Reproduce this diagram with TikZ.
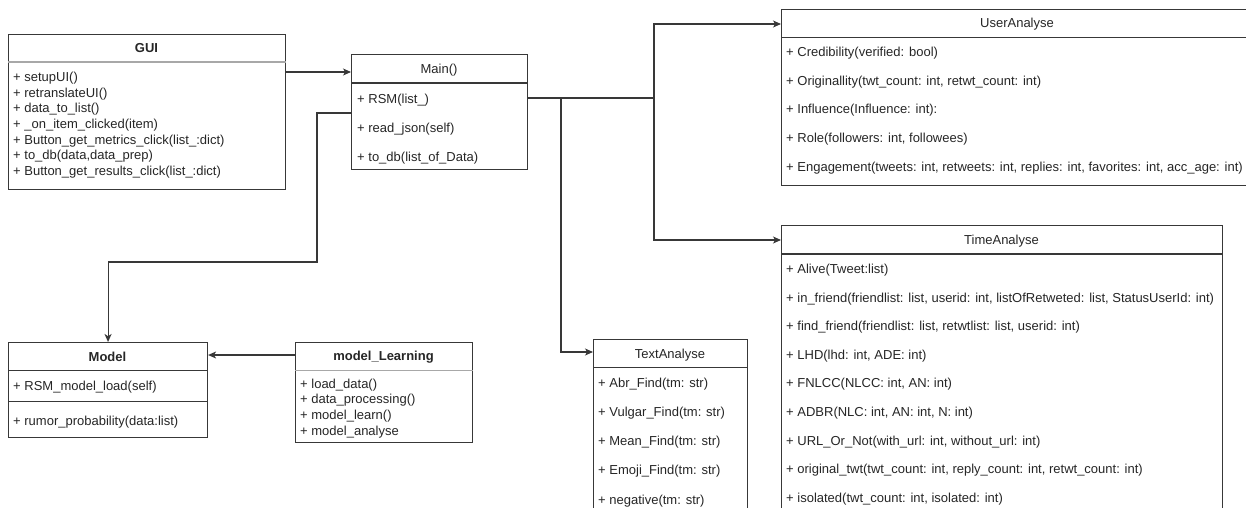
\documentclass[tikz,border=0pt]{standalone}
\usepackage{fontspec}
\setmainfont{Liberation Sans}
\usetikzlibrary{arrows.meta}
\definecolor{ink}{HTML}{262626}
\definecolor{edge}{HTML}{383838}
\definecolor{soft}{HTML}{A8A8A8}
\newcommand\umlfont{\fontsize{13}{15.6}\selectfont}

\begin{document}
\begin{tikzpicture}[x=1pt,y=-1pt,
  cls/.style={draw=edge, line width=1.1pt, fill=white, inner sep=0pt, anchor=north west},
  ttl/.style={font=\umlfont, text=ink, inner sep=0pt, anchor=base},
  btl/.style={font=\umlfont\bfseries, text=ink, inner sep=0pt, anchor=base},
  row/.style={font=\umlfont, text=ink, inner sep=0pt, anchor=base west},
  divider/.style={draw=edge, line width=1.1pt},
  lightdiv/.style={draw=soft, line width=1.1pt},
  link/.style={draw=edge, line width=1.1pt, -{Stealth[length=8pt,width=7pt,inset=2.2pt]}},
]
\useasboundingbox (0,0) rectangle (1246,508);
\fill[white] (0,0) rectangle (1246,508);
\clip (0,0) rectangle (1246,508);

% ---------- GUI ----------
\node[cls, minimum width=277pt, minimum height=155pt] (gui) at (8,34) {};
\node[btl] (gui-t) at (146.5,52.7) {GUI};
\draw[lightdiv] (gui.north west |- 0,62) -- (gui.north east |- 0,62);
\foreach \t [count=\i from 0] in {{+ setupUI()},{+ retranslateUI()},{+ data\_to\_list()},
  {+ \_on\_item\_clicked(item)},{+ Button\_get\_metrics\_click(list\_:dict)},
  {+ to\_db(data,data\_prep)},{+ Button\_get\_results\_click(list\_:dict)}}
  \node[row] (gui-\i) at (13,{81.7+15.6*\i}) {\t};

% ---------- Main() ----------
\node[cls, minimum width=176pt, minimum height=115pt] (main) at (351,54) {};
\node[ttl] (main-t) at (439,73.7) {Main()};
\draw[divider] (main.north west |- 0,83) -- (main.north east |- 0,83);
\foreach \t [count=\i from 0] in {{+ RSM(list\_)},{+ read\_json(self)},{+ to\_db(list\_of\_Data)}}
  \node[row] (main-\i) at (357,{103.5+28.8*\i}) {\t};

% ---------- UserAnalyse ----------
\node[cls, minimum width=472pt, minimum height=176pt] (user) at (781,9) {};
\node[ttl] (user-t) at (1017,28) {UserAnalyse};
\draw[divider] (user.north west |- 0,37.6) -- (user.north east |- 0,37.6);
\foreach \t [count=\i from 0] in {{+ Credibility(verified: bool)},
  {+ Originallity(twt\_count: int, retwt\_count: int)},
  {+ Influence(Influence: int):},
  {+ Role(followers: int, followees)},
  {+ Engagement(tweets: int, retweets: int, replies: int, favorites: int, acc\_age: int)}}
  \node[row] (user-\i) at (786,{56.7+28.6*\i}) {\t};

% ---------- TimeAnalyse ----------
\node[cls, minimum width=441pt, minimum height=310pt] (time) at (781,225) {};
\node[ttl] (time-t) at (1001.5,244.5) {TimeAnalyse};
\draw[divider] (time.north west |- 0,254) -- (time.north east |- 0,254);
\foreach \t [count=\i from 0] in {{+ Alive(Tweet:list)},
  {+ in\_friend(friendlist: list, userid: int, listOfRetweted: list, StatusUserId: int)},
  {+ find\_friend(friendlist: list, retwtlist: list, userid: int)},
  {+ LHD(lhd: int, ADE: int)},
  {+ FNLCC(NLCC: int, AN: int)},
  {+ ADBR(NLC: int, AN: int, N: int)},
  {+ URL\_Or\_Not(with\_url: int, without\_url: int)},
  {+ original\_twt(twt\_count: int, reply\_count: int, retwt\_count: int)},
  {+ isolated(twt\_count: int, isolated: int)}}
  \node[row] (time-\i) at (786,{273.5+28.6*\i}) {\t};

% ---------- TextAnalyse ----------
\node[cls, minimum width=154pt, minimum height=200pt] (text) at (593,339) {};
\node[ttl] (text-t) at (670,358) {TextAnalyse};
\draw[divider] (text.north west |- 0,367.6) -- (text.north east |- 0,367.6);
\foreach \t [count=\i from 0] in {{+ Abr\_Find(tm: str)},{+ Vulgar\_Find(tm: str)},
  {+ Mean\_Find(tm: str)},{+ Emoji\_Find(tm: str)},{+ negative(tm: str)}}
  \node[row] (text-\i) at (598,{387+29.3*\i}) {\t};

% ---------- Model ----------
\node[cls, minimum width=199pt, minimum height=95pt] (model) at (8,342) {};
\node[btl] (model-t) at (107.5,361) {Model};
\draw[divider] (model.north west |- 0,370.6) -- (model.north east |- 0,370.6);
\draw[divider] (model.north west |- 0,401.5) -- (model.north east |- 0,401.5);
\node[row] (model-0) at (13,390) {+ RSM\_model\_load(self)};
\node[row] (model-1) at (13,425.5) {+ rumor\_probability(data:list)};

% ---------- model_Learning ----------
\node[cls, minimum width=177pt, minimum height=100pt] (learn) at (295,342) {};
\node[btl] (learn-t) at (383.5,360.7) {model\_Learning};
\draw[lightdiv] (learn.north west |- 0,370.6) -- (learn.north east |- 0,370.6);
\foreach \t [count=\i from 0] in {{+ load\_data()},{+ data\_processing()},{+ model\_learn()},{+ model\_analyse}}
  \node[row] (learn-\i) at (300,{388.2+15.6*\i}) {\t};

% ---------- connectors ----------
\draw[link] (gui.east |- 0,72) -- (main.west |- 0,72);
\draw[link] (main.west |- 0,113) -- (317,113) |- (model.north |- 0,262) -- (model.north);
\draw[link] (main.east |- 0,98) -- (654,98) |- (user.west |- 0,24);
\draw[link] (main.east |- 0,98) -- (654,98) |- (time.west |- 0,240);
\draw[link] (main.east |- 0,98) -- (561,98) |- (text.west |- 0,352);
\draw[link] (learn.west |- 0,355) -- (model.east |- 0,355);
\end{tikzpicture}
\end{document}
